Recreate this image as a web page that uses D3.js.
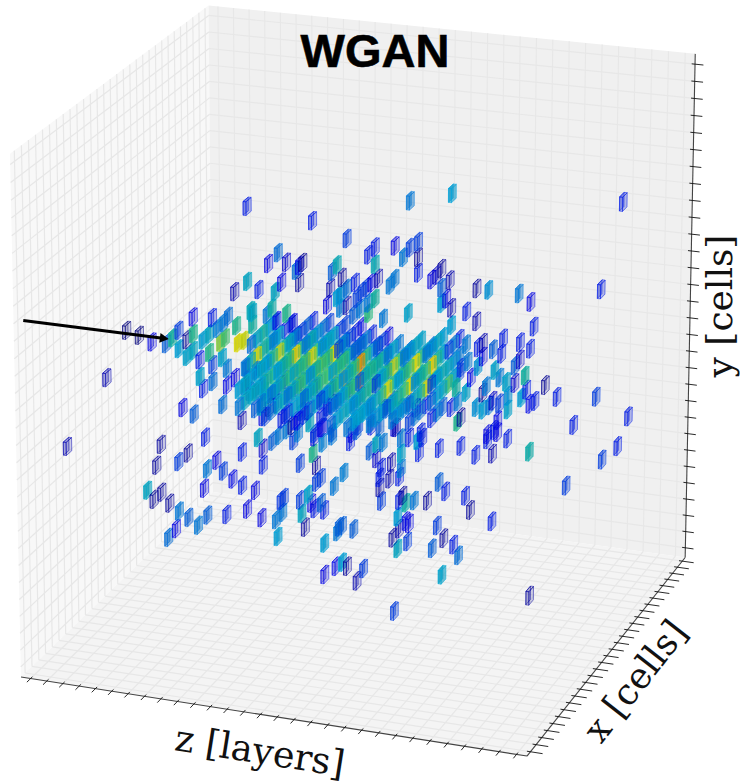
<!DOCTYPE html>
<html>
<head>
<meta charset="utf-8">
<style>
  body { margin: 0; background: #fff; }
  svg { display: block; }
</style>
</head>
<body>
<div id="chart"></div>
<script src="https://cdnjs.cloudflare.com/ajax/libs/d3/7.8.5/d3.min.js"></script>
<script>
// tick positions, cells 0..29 on all three axes
var cellTicks = d3.range(0, 30);

// shower core, one row per z/y: runs of neighbouring x cells starting at coreX0
var coreZ = [8,8,8,8, 9,9,9,9, 10,10,10,10, 11,11,11,11, 12,12,12,12, 13,13,13,13,
             14,14,14,14, 15,15,15,15, 16,16,16,16, 17,17,17,17, 18,18,18,18, 19,19,19,19];
var coreY = [15,14,13,12, 15,14,13,12, 15,14,13,12, 15,14,13,12, 15,14,13,12, 15,14,13,12,
             15,14,13,12, 15,14,13,12, 15,14,13,12, 15,14,13,12, 15,14,13,12, 15,14,13,12];
var coreX0 = [14,13,12,12, 15,13,12,12, 15,13,12,11, 15,13,12,11, 15,13,12,11, 15,14,12,12,
              15,13,12,11, 16,13,12,11, 15,13,12,12, 15,14,12,13, 16,14,13,13, 17,14,14,14];
var coreE = [
  [.28,.42,.5,.38,.3], [.3,.45,.78,.5,.48,.35], [.38,.42,.38,.4,.5,.3], [.3,.42,.4,.3,.25],
  [.32,.4,.15,.2], [.4,.38,.55,.75,.52,.3,.2], [.42,.4,.5,.55,.42,.35,.3], [.25,.3,.42,.38,.2,.12],
  [.42,.3,.2,.25,.15], [.38,.5,.6,.82,.55,.4,.3], [.3,.42,.52,.6,.78,.5,.3], [.2,.28,.4,.45,.35,.25,.2],
  [.3,.45,.35,.28,.2], [.42,.55,.62,.78,.6,.42,.3], [.3,.45,.6,.55,.55,.78,.45,.3], [.15,.2,.38,.42,.4,.28,.2],
  [.35,.42,.4,.2,.2], [.35,.5,.62,.6,.8,.5,.38], [.28,.42,.5,.6,.62,.8,.45,.3], [.12,.2,.3,.4,.38,.3,.2],
  [.2,.3,.2,.15,.12], [.4,.55,.6,.45,.3,.3], [.2,.35,.5,.6,.85,.5,.35,.28], [.15,.2,.3,.35,.3,.2],
  [.25,.25,.3,.15], [.35,.45,.6,.92,.55,.35,.2], [.3,.4,.55,.6,.95,.55,.38,.3], [.25,.38,.42,.42,.35,.2],
  [.25,.2,.1], [.25,.45,.55,.5,.48,.3], [.35,.45,.5,.55,.5,.45,.25], [.3,.38,.4,.38,.3],
  [.3,.4,.3], [.2,.4,.55,.75,.6,.4,.3], [.35,.42,.55,.78,.55,.48,.3], [.3,.35,.4,.3,.2],
  [.3,.35,.42,.4], [.38,.55,.62,.8,.58,.42,.3], [.25,.42,.5,.6,.8,.55,.4], [.3,.35,.3,.2],
  [.3,.35,.42,.38], [.35,.5,.58,.82,.52,.4], [.3,.42,.5,.78,.55,.45], [.2,.3,.28,.15],
  [.2,.3,.15], [.2,.38,.45,.42,.35,.3], [.25,.38,.42,.62,.4,.2], [.15,.3,.25]
];

// single hits, depth taken as the middle of the x range
var hitX = 14.5;
var hitZ = [
  0,.8,1.6,2.5,2.9,3.3,3.3,3.8, 4.2,4.2,3.8,4.2,4.6,4.6,4.8,5.4,
  5.4,4.8,5.2,5.7,6.1,6.4,6.8,7.6, 5.2,5.4,5.9,6.2,6.9,7,7.4,6,
  6.3,6.8,6.3,7.4,7.7,3.5,4.2,6, 7.2,-1.3,-3.9,7.9,9.4,10,10.4,7.9,
  8.5,9.4,8.9,9.9,10.5,10.9,11.3,8.6, 8.4,7.6,7.5,8.1,7.6,11.6,13.7,17.5,
  20,30,15,15.4,16.6,17.1,17.5,18, 18,18,18.8,19.1,19.4,19.9,19.4,19.4,
  19.7,20,9.5,8.9,10,10.6,10.8,11, 10.8,8.3,9.3,9.7,9.1,7.8,8.8,13.1,
  12.8,13.4,12.7,12.5,13.1,13.3,13.7,14.2, 13.7,13.3,14.3,14.6,14.9,15.2,15.6,15.4,
  14.5,15,15.4,15,14.1,16.3,16.6,17.4, 15.9,20,20.9,21.5,22.2,21.5,24,24.7,
  24.9,24.1,24.7,23.1,22.5,21.9,21.6,20.9, 24.4,24.1,23.8,25.6,26.3,25,24.7,24.2,
  24.5,23.8,23.4,23.4,22.9,22.8,22.6,22.2, 21.9,21.5,21.9,22.3,22.5,20.4,20.6,20,
  20.4,21.2,21.6,21.9,22.6,23,20.6,20.3, 20.9,21,22.1,23.3,22.9,24.7,23.4,22.8,
  22.5,22.2,21.5,20.6,19.3,18.3,18,18.1, 17,17,16.7,15.9,15.5,15.1,15.5,13.9,
  14.3,13.5,15.8,16.4,15.7,16.3,16.9,17, 15.7,15.8,19.3,19.7,20.9,21.2,22.5,18.6,
  17.8,17.1,16.9,17.3,16.8,16.9,17.3,17.5, 16.5,17.4,16.8,19.2,18.9,19.6,20.2,20.5,
  19.5,24.8,16.6,14.7,14.3,13.7,13.4,14.1, 13.4,2.1,4.9,1.8,3.2,3.8,5,5.6,
  6,6.6,7.2,7.2,8.5,8.5,8.2,9.1, 9.5,10,10.4,10.7,10.3,11.6,11.7,12.1,
  12.2,12.8,10.8,11.8,8,4.8,1.2,2.1, 1.6,2.6,3.2,3.8,4.4,5,6.2,7.5,
  8.4,9.6,9.8,9.3,9.7,9.4,10.8,11.3, 11.5,11.8,12.1,11.7,12.1,12.3,10.9,11.1,
  12.9,13.2,13.1,12.3,13,12.3,3,2.5, 26.9,29,29.9,30.5,27.3,28.6,28.8,11.4,
  11.7,12.2,12.8,12.5,12.8,14,14.4,14.2, 14.7,15.2,15.7,16.6,15.9,16.5,17,17.9,
  18.2,17.5,15.2
];
var hitY = [
  14.7,14.5,14.2,14.2,14.6,15.1,14,14.6, 15,16,13.6,14,13.5,12.5,11.8,12.3,
  16.1,14.7,15.1,15.5,15.9,16.3,17.8,18.5, 14,13.3,14.7,15,15.8,14.8,15,13.8,
  13.2,12.7,12.2,12.3,12,10.5,10.2,11, 10.2,11.7,7.2,16.7,16.4,16.9,16.4,16,
  10.6,11.5,11.2,10.9,10.6,11.2,11.3,12.1, 11.2,12.8,13.4,13.3,22.9,22.5,21.7,24.3,
  25,25.6,20.9,21.4,21.6,21,21.6,22, 21.1,20.2,19.9,20.2,20.6,20,19.5,18.6,
  18.9,18.4,20.4,19.7,19.9,19.5,19.8,20, 18.8,18.1,18.1,18.7,17.1,16.8,16.7,20.1,
  19.7,19.4,18.7,17.7,18.2,18.4,18.8,19.2, 17.8,17.6,18.3,18.7,19,19.3,19.6,20.4,
  17.7,18.1,18.4,17.5,17.3,19.3,19.7,17.8, 17.3,17.4,18.3,19.7,19.7,17.8,19.7,19.3,
  17.9,16.9,16.6,17,16.3,16.6,16.3,16.4, 15,15.9,15.5,14.6,14,13.6,13.4,13.7,
  14.2,14.5,13.7,12.9,13.2,12.2,11.6,11.3, 13.7,12.8,12.7,13,13.3,11.8,12.1,12.6,
  13,14.5,15.2,15.8,15.1,16.1,15,13.8, 13.6,15.4,14.1,14.5,14.7,10.6,11.2,11.5,
  10.2,11,10,10.4,10.1,10.6,10.4,9.7, 10.4,9.5,11,10,9.9,9.4,9,9.8,
  10.5,7.9,8.5,8.9,7.9,7.9,8.1,8.6, 7.3,6.5,8.1,7.6,7.5,6.7,6.2,6.9,
  6.8,7,6.7,6.6,5.7,5,5.5,5.4, 4.4,4.3,3.8,5.5,4.1,4.8,4.5,3.9,
  2.6,2.1,0,2.3,1.5,2.3,2.5,4.6, 4.7,8.1,8.9,6.8,7.2,7.8,7,7.6,
  7,6.6,8.3,6.3,8.7,7.7,9.3,9.2, 9.6,10,9.4,9.9,10.3,8.8,9.8,10.4,
  9.5,10,8.1,8.1,6.1,5.8,5.2,5.2, 4.7,4.6,4.2,3.9,3.5,4.2,4.4,4.9,
  4.5,5.7,5.9,4.5,5,3.5,5.9,6.3, 5.8,7.1,7.4,5.5,5.9,5.5,5.1,4.3,
  7,4.6,4.3,3.5,2.2,1.6,3.1,2.5, 8.9,10.7,11.6,13.4,12.5,14.3,20.5,10.6,
  10,10.4,10.2,11.7,11.9,10.3,10.8,11.2, 11.6,11.4,10.9,11,12,12,12.2,12.3,
  10.9,10.5,10.9
];
var hitE = [
  0,0,.1,.25,.5,.2,.38,.02, .55,.1,.4,.42,.15,.4,.15,.28,
  .15,.38,.42,.32,.3,.28,.05,.42, .55,.2,.7,.62,.55,.8,.78,.4,
  .3,.1,.12,.3,.25,.1,.25,.28, .05,.05,.05,.42,.12,.55,.1,.5,
  .1,.1,.03,.15,.15,.25,.12,.42, .42,.25,.3,.3,.15,.15,.2,.3,
  .38,.15,.15,.15,.1,.3,.2,.2, .03,.15,.1,.08,.03,.05,.25,.38,
  .1,.05,.28,.1,.08,.28,.12,.02, .03,.15,.42,.1,.48,.45,.3,.45,
  .25,.03,.05,.1,.38,.35,.28,.15, .05,.3,.2,.2,.2,.1,.05,.45,
  .3,.3,.5,.58,.25,.3,.3,.4, .3,.38,.15,.03,.35,.05,.3,.1,
  .15,.15,.15,.15,.25,.05,.15,.3, .5,.08,.25,.02,.15,.15,.12,.38,
  .15,.08,.35,.4,.2,.12,.15,.1, .03,.35,.38,.3,.08,.55,.03,.15,
  .3,.12,.35,.1,.4,.15,.2,.5, .4,.3,.3,.4,.3,.48,.15,.1,
  .05,.15,.15,.15,.15,.15,.38,.15, .3,.4,.05,.3,.42,.25,.08,.15,
  .25,.32,.15,.05,.15,.05,.15,.3, .04,.2,.25,.15,.15,.03,.15,.03,
  .3,.03,.15,.48,.38,.05,.12,.1, .03,.2,.42,.2,.25,.03,.15,.28,
  .4,.03,.2,.2,.05,.03,.38,.25, .25,.03,.15,.03,.2,.03,.3,.1,
  .2,.12,.15,.15,.08,.15,.42,.25, .3,.3,.2,.3,.03,.55,.1,.1,
  .32,.3,.2,.03,.1,.1,.42,.03, .02,.03,.3,.25,.3,.25,.15,.1,
  .1,.18,.2,.3,.3,.38,.2,.4, .1,.2,.2,.15,.25,.15,.42,.03,
  .3,.25,.3,.38,.12,.1,.1,.28, .2,.2,.15,.15,.15,.2,.15,.42,
  .2,.1,.25,.1,.1,.1,.2,.38, .4,.3,.25,.1,.2,.4,.35,.1,
  .15,.15,.15
];

// incoming particle, runs along z in the middle of the calorimeter face
var arrowZ = [-6.6, 2.65];
var arrowCell = 14.5;

var width = 740, height = 784;
var axisLimits = [-0.6, 29.6];

var zScale = d3.scaleLinear().domain(axisLimits).range([0, 1]);
var xScale = d3.scaleLinear().domain(axisLimits).range([0, 1]);
var yScale = d3.scaleLinear().domain(axisLimits).range([0, 1]);

// colours of the low to high hits
var energyColor = d3.scaleLinear()
  .domain([0, .11, .25, .38, .5, .6, .8, .95, 1])
  .range(["#00007f", "#0000f0", "#0060e0", "#00a8e0", "#10b8a8", "#30c880", "#e0e000", "#ff9000", "#e00000"]);
// faint hits are more see-through
var faceOpacity = d3.scaleLinear().domain([0, .15, .4]).range([.14, .27, .58]).clamp(true);

// camera, fitted on the box corners in the picture
function project(z, x, y) {
  var u = zScale(z), v = xScale(x), w = yScale(y);
  var d = 1 - 0.04 * u + 0.085 * v - 0.0314 * w;
  return [
    (21 + 484.9 * u + 210.1 * v - 11.3 * w) / d,
    (677 + 48.8 * u - 143.2 * v - 528 * w) / d,
    d
  ];
}

var lo = axisLimits[0], hi = axisLimits[1];

var svg = d3.select("#chart").append("svg")
  .attr("width", width)
  .attr("height", height);

var line = d3.line();
function seg(a, b) { return line([project(a[0], a[1], a[2]), project(b[0], b[1], b[2])]); }
function poly(pts) {
  return line(pts.map(function(p) { return project(p[0], p[1], p[2]); })) + "Z";
}

// panes
svg.append("path").attr("fill", "#f8f8f8")
  .attr("d", poly([[lo,lo,lo],[lo,hi,lo],[lo,hi,hi],[lo,lo,hi]]));
svg.append("path").attr("fill", "#f0f0f0")
  .attr("d", poly([[lo,hi,lo],[hi,hi,lo],[hi,hi,hi],[lo,hi,hi]]));
svg.append("path").attr("fill", "#f4f4f4")
  .attr("d", poly([[lo,lo,lo],[hi,lo,lo],[hi,hi,lo],[lo,hi,lo]]));

// grid on the panes
var grid = svg.append("g").attr("stroke", "#e7e7e7").attr("stroke-width", 1.2).attr("fill", "none");
cellTicks.forEach(function(t) {
  grid.append("path").attr("d", seg([t,hi,lo],[t,hi,hi]));
  grid.append("path").attr("d", seg([lo,hi,t],[hi,hi,t]));
  grid.append("path").attr("d", seg([lo,t,lo],[lo,t,hi]));
  grid.append("path").attr("d", seg([lo,lo,t],[lo,hi,t]));
  grid.append("path").attr("d", seg([t,lo,lo],[t,hi,lo]));
  grid.append("path").attr("d", seg([lo,t,lo],[hi,t,lo]));
});

// axes
var axes = svg.append("g").attr("fill", "none");
axes.append("path").attr("stroke", "#444").attr("stroke-width", 1.1).attr("d", seg([lo,lo,lo],[hi,lo,lo]));
axes.append("path").attr("stroke", "#444").attr("stroke-width", 1.1).attr("d", seg([hi,lo,lo],[hi,hi,lo]));
axes.append("path").attr("stroke", "#444").attr("stroke-width", 1.1).attr("d", seg([hi,hi,lo],[hi,hi,hi]));
cellTicks.forEach(function(t) {
  axes.append("path").attr("stroke", "#111").attr("stroke-width", 0.9).attr("d", seg([t,lo+0.25,lo],[t,lo-0.55,lo]));
  axes.append("path").attr("stroke", "#111").attr("stroke-width", 0.9).attr("d", seg([hi-0.2,t,lo],[hi+0.7,t,lo]));
  axes.append("path").attr("stroke", "#111").attr("stroke-width", 0.9).attr("d", seg([hi-0.2,hi,t],[hi+0.5,hi,t]));
});

// all hits as one list
var hits = [];
coreE.forEach(function(run, i) {
  run.forEach(function(e, k) {
    hits.push({z: coreZ[i], x: coreX0[i] + k, y: coreY[i], e: e});
  });
});
hitE.forEach(function(e, i) {
  hits.push({z: hitZ[i], x: hitX, y: hitY[i], e: e});
});
hits.forEach(function(h) { h.depth = project(h.z, h.x, h.y)[2]; });
hits.sort(function(a, b) { return d3.descending(a.depth, b.depth); });

// box faces of one hit, far big face first
var hz = 0.09, hx = 0.42, hy = 0.4;
function faces(h) {
  var z0 = h.z - hz, z1 = h.z + hz, x0 = h.x - hx, x1 = h.x + hx, y0 = h.y - hy, y1 = h.y + hy;
  return [
    [[z0,x0,y0],[z0,x1,y0],[z0,x1,y1],[z0,x0,y1]],
    [[z0,x0,y0],[z1,x0,y0],[z1,x0,y1],[z0,x0,y1]],
    [[z0,x0,y1],[z1,x0,y1],[z1,x1,y1],[z0,x1,y1]],
    [[z1,x0,y0],[z1,x1,y0],[z1,x1,y1],[z1,x0,y1]]
  ];
}

svg.append("g").selectAll("g")
  .data(hits)
  .enter().append("g")
  .each(function(h) {
    var c = energyColor(h.e);
    d3.select(this).selectAll("path")
      .data(faces(h))
      .enter().append("path")
      .attr("d", poly)
      .attr("fill", d3.color(c).darker(0.35))
      .attr("fill-opacity", faceOpacity(h.e))
      .attr("stroke", c)
      .attr("stroke-opacity", 0.7)
      .attr("stroke-width", 0.7)
      .attr("stroke-linejoin", "round");
  });

// particle arrow
var arrowA = project(arrowZ[0], arrowCell, arrowCell);
var arrowB = project(arrowZ[1], arrowCell, arrowCell);
var arrowAngle = Math.atan2(arrowB[1] - arrowA[1], arrowB[0] - arrowA[0]) * 180 / Math.PI;
svg.append("path")
  .attr("d", line([[arrowA[0], arrowA[1]], [arrowB[0] - 6, arrowB[1] - 0.8]]))
  .attr("stroke", "#000")
  .attr("stroke-width", 3.1)
  .attr("fill", "none");
svg.append("path")
  .attr("transform", "translate(" + arrowB[0] + "," + arrowB[1] + ") rotate(" + arrowAngle + ")")
  .attr("d", "M0,0L-9,-5L-9,5Z")
  .attr("fill", "#000");

// texts
svg.append("text")
  .attr("x", 375).attr("y", 67)
  .attr("text-anchor", "middle")
  .attr("stroke", "#000")
  .attr("stroke-width", 0.6)
  .style("font", "bold 47px 'Liberation Sans'")
  .text("WGAN");

function axisLabel(text, x, y, angle, size) {
  svg.append("text")
    .attr("transform", "translate(" + x + "," + y + ") rotate(" + angle + ")")
    .attr("text-anchor", "middle")
    .attr("dominant-baseline", "central")
    .style("font", size + "px 'DejaVu Serif'")
    .attr("fill", "#111")
    .text(text);
}
axisLabel("z [layers]", 260, 751, 9, 36.5);
axisLabel("x [cells]", 635, 681, -52, 36);
axisLabel("y [cells]", 719, 306, -90, 36);
</script>
</body>
</html>
